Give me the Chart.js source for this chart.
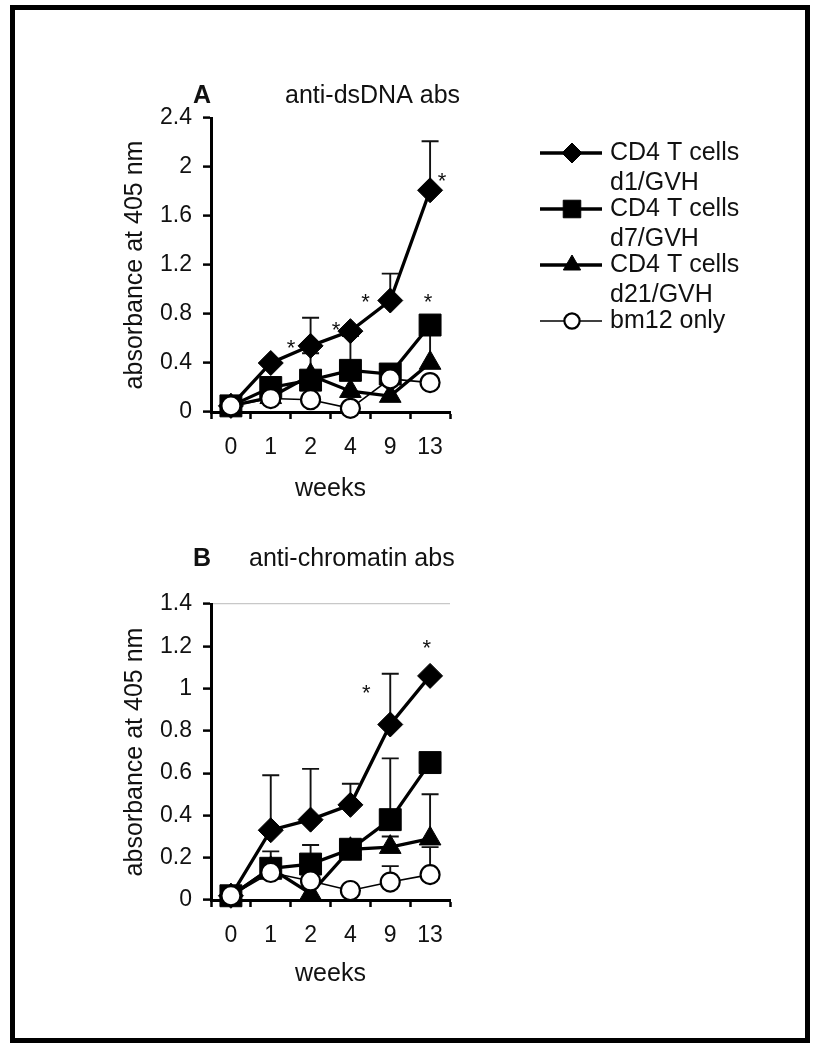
<!DOCTYPE html>
<html>
<head>
<meta charset="utf-8">
<script src="https://cdn.jsdelivr.net/npm/chart.js@4.4.1/dist/chart.umd.min.js"></script>
<style>
  html, body { margin: 0; padding: 0; background: #fff; }
  body { width: 818px; height: 1050px; position: relative; overflow: hidden; }
  #frame { position: absolute; left: 10px; top: 5px; width: 800px; height: 1038px; border: 5px solid #000; box-sizing: border-box; }
  canvas { position: absolute; left: 20px; }
  #chartA { top: 50px; }
  #chartB { top: 520px; }
</style>
</head>
<body>
<div id="frame"></div>
<canvas id="chartA" width="780" height="470"></canvas>
<canvas id="chartB" width="780" height="500"></canvas>
<script>
const weeks = ['0', '1', '2', '4', '9', '13'];
const seriesLabels = [['CD4 T cells', 'd1/GVH'], ['CD4 T cells', 'd7/GVH'], ['CD4 T cells', 'd21/GVH'], ['bm12 only']];

// A: anti-dsDNA abs (means and top of error bar)
const dsdnaD1 = [0.05, 0.40, 0.54, 0.66, 0.91, 1.81];
const dsdnaD1Err = [null, null, 0.77, null, 1.13, 2.21];
const dsdnaD7 = [0.05, 0.20, 0.26, 0.34, 0.31, 0.71];
const dsdnaD7Err = [null, null, 0.48, 0.62, null, null];
const dsdnaD21 = [0.05, 0.12, 0.30, 0.17, 0.13, 0.40];
const dsdnaD21Err = [null, null, null, null, null, 0.65];
const dsdnaBm12 = [0.05, 0.11, 0.10, 0.03, 0.27, 0.24];
const dsdnaBm12Err = [null, null, null, null, null, null];
const yTicksA = [0, 0.4, 0.8, 1.2, 1.6, 2, 2.4];
// asterisks: x = category position, y = value
const starsA = [{x: 1.51, y: 0.56}, {x: 2.64, y: 0.70}, {x: 3.38, y: 0.93}, {x: 4.95, y: 0.93}, {x: 5.30, y: 1.92}];

// B: anti-chromatin abs
const chromD1 = [0.02, 0.33, 0.38, 0.45, 0.83, 1.06];
const chromD1Err = [null, 0.59, 0.62, 0.55, 1.07, null];
const chromD7 = [0.02, 0.15, 0.17, 0.24, 0.38, 0.65];
const chromD7Err = [null, 0.23, 0.26, null, 0.67, null];
const chromD21 = [0.02, 0.15, 0.03, 0.24, 0.25, 0.29];
const chromD21Err = [null, null, null, null, 0.30, 0.50];
const chromBm12 = [0.02, 0.13, 0.09, 0.045, 0.085, 0.12];
const chromBm12Err = [null, null, null, null, 0.16, 0.25];
const yTicksB = [0, 0.2, 0.4, 0.6, 0.8, 1, 1.2, 1.4];
const starsB = [{x: 3.40, y: 1.00}, {x: 4.92, y: 1.21}];

const FONT = "'Liberation Sans', Arial, sans-serif";
Chart.defaults.font.family = FONT;
Chart.defaults.color = '#111';

function makeDatasets(d1, d1e, d7, d7e, d21, d21e, bm, bme) {
    return [
        { label: seriesLabels[0], data: d1, errTop: d1e, order: 3, pointStyle: 'rectRot', pointRadius: 12.5,
          borderColor: '#000', backgroundColor: '#000', borderWidth: 3.3, pointBorderWidth: 1 },
        { label: seriesLabels[1], data: d7, errTop: d7e, order: 2, pointStyle: 'rect', pointRadius: 15.5,
          borderColor: '#000', backgroundColor: '#000', borderWidth: 3.3, pointBorderWidth: 1 },
        { label: seriesLabels[2], data: d21, errTop: d21e, order: 1, pointStyle: 'triangle', pointRadius: 12.5,
          borderColor: '#000', backgroundColor: '#000', borderWidth: 3.3, pointBorderWidth: 1 },
        { label: seriesLabels[3], data: bm, errTop: bme, order: 0, pointStyle: 'circle', pointRadius: 9.5,
          borderColor: '#000', backgroundColor: '#fff', borderWidth: 1.6, pointBorderWidth: 2.2 }
    ].map(ds => Object.assign(ds, { tension: 0, clip: false, pointHoverRadius: ds.pointRadius }));
}

// error bars (upper only), drawn under the markers
const errorBars = {
    id: 'errorBars',
    beforeDatasetsDraw(chart) {
        const ctx = chart.ctx;
        const y = chart.scales.y;
        ctx.save();
        ctx.strokeStyle = '#111';
        ctx.lineWidth = 1.9;
        chart.data.datasets.forEach((ds, i) => {
            const meta = chart.getDatasetMeta(i);
            (ds.errTop || []).forEach((top, j) => {
                if (top == null) return;
                const pt = meta.data[j];
                const yTop = y.getPixelForValue(top);
                ctx.beginPath();
                ctx.moveTo(pt.x, pt.y);
                ctx.lineTo(pt.x, yTop);
                ctx.moveTo(pt.x - 8.5, yTop);
                ctx.lineTo(pt.x + 8.5, yTop);
                ctx.stroke();
            });
        });
        ctx.restore();
    }
};

function starPlugin(stars) {
    return {
        id: 'stars',
        afterDatasetsDraw(chart) {
            const ctx = chart.ctx;
            const size = 22;
            ctx.save();
            ctx.fillStyle = '#111';
            ctx.font = size + 'px ' + FONT;
            ctx.textAlign = 'center';
            ctx.textBaseline = 'middle';
            stars.forEach(s => {
                const px = chart.scales.x.getPixelForValue(s.x);
                const py = chart.scales.y.getPixelForValue(s.y);
                ctx.fillText('*', px, py + size * 0.23);
            });
            ctx.restore();
        }
    };
}

function panelLabel(letter, text, letterDx, textDx, dy) {
    return {
        id: 'panelLabel',
        afterDraw(chart) {
            const ctx = chart.ctx;
            const a = chart.chartArea;
            ctx.save();
            ctx.fillStyle = '#111';
            ctx.textBaseline = 'middle';
            ctx.textAlign = 'center';
            ctx.font = 'bold 25px ' + FONT;
            ctx.fillText(letter, a.left + letterDx, a.top + dy);
            ctx.textAlign = 'left';
            ctx.font = '25px ' + FONT;
            ctx.fillText(text, a.left + textDx, a.top + dy);
            ctx.restore();
        }
    };
}

// legend drawn next to panel A from the dataset styles
const sideLegend = {
    id: 'sideLegend',
    afterDraw(chart) {
        const ctx = chart.ctx;
        const a = chart.chartArea;
        const x0 = a.right + 90;
        let y = a.top + 35;
        ctx.save();
        ctx.font = '25px ' + FONT;
        ctx.textBaseline = 'middle';
        ctx.textAlign = 'left';
        chart.data.datasets.forEach(ds => {
            ctx.strokeStyle = ds.borderColor;
            ctx.lineWidth = ds.borderWidth;
            ctx.beginPath();
            ctx.moveTo(x0, y);
            ctx.lineTo(x0 + 62, y);
            ctx.stroke();
            ctx.fillStyle = ds.backgroundColor;
            ctx.lineWidth = ds.pointBorderWidth;
            Chart.helpers.drawPoint(ctx, { pointStyle: ds.pointStyle, radius: ds.pointRadius * 0.8, borderWidth: ds.pointBorderWidth, rotation: 0 }, x0 + 32, y);
            ctx.fillStyle = '#111';
            ds.label.forEach((line, k) => ctx.fillText(line, x0 + 70, y + k * 30));
            y += 56;
        });
        ctx.restore();
    }
};

function makeChart(id, datasets, yMax, yTicks, stars, extraPlugins, topPad, xHeight, xTitlePad, gridTop) {
    return new Chart(document.getElementById(id), {
        type: 'line',
        data: { labels: weeks, datasets: datasets },
        plugins: [errorBars, starPlugin(stars)].concat(extraPlugins),
        options: {
            responsive: false,
            animation: false,
            events: [],
            layout: { padding: { left: 0, top: topPad, right: 350, bottom: 0 } },
            plugins: { legend: { display: false }, tooltip: { enabled: false } },
            scales: {
                x: {
                    type: 'category',
                    offset: true,
                    afterFit: s => { s.height = xHeight; },
                    border: { display: true, color: '#000', width: 3 },
                    grid: { offset: true, drawOnChartArea: false, tickLength: 7, tickColor: '#000', tickWidth: 2.5 },
                    ticks: { padding: 15, font: { size: 23 }, color: '#111' },
                    title: { display: true, text: 'weeks', font: { size: 25 }, color: '#111', padding: { top: 0, bottom: xTitlePad } }
                },
                y: {
                    min: 0,
                    max: yMax,
                    afterFit: s => { s.width = 191; },
                    afterBuildTicks: s => { s.ticks = yTicks.map(v => ({ value: v })); },
                    border: { display: true, color: '#000', width: 3 },
                    grid: {
                        drawOnChartArea: gridTop,
                        color: c => (c.tick && c.tick.value === yMax) ? '#c8c8c8' : 'rgba(0,0,0,0)',
                        lineWidth: 1.2,
                        tickLength: 8, tickColor: '#000', tickWidth: 2.5
                    },
                    ticks: { padding: 11, font: { size: 23 }, color: '#111', callback: v => String(v) },
                    title: { display: true, text: 'absorbance at 405 nm', font: { size: 25 }, color: '#111', padding: { top: 100, bottom: 0 } }
                }
            }
        }
    });
}

makeChart('chartA',
    makeDatasets(dsdnaD1, dsdnaD1Err, dsdnaD7, dsdnaD7Err, dsdnaD21, dsdnaD21Err, dsdnaBm12, dsdnaBm12Err),
    2.4, yTicksA, starsA, [panelLabel('A', 'anti-dsDNA abs', -9, 74, -22), sideLegend], 68, 108, 16, false);

makeChart('chartB',
    makeDatasets(chromD1, chromD1Err, chromD7, chromD7Err, chromD21, chromD21Err, chromBm12, chromBm12Err),
    1.4, yTicksB, starsB, [panelLabel('B', 'anti-chromatin abs', -9, 38, -45)], 84, 120, 31, true);
</script>
</body>
</html>
